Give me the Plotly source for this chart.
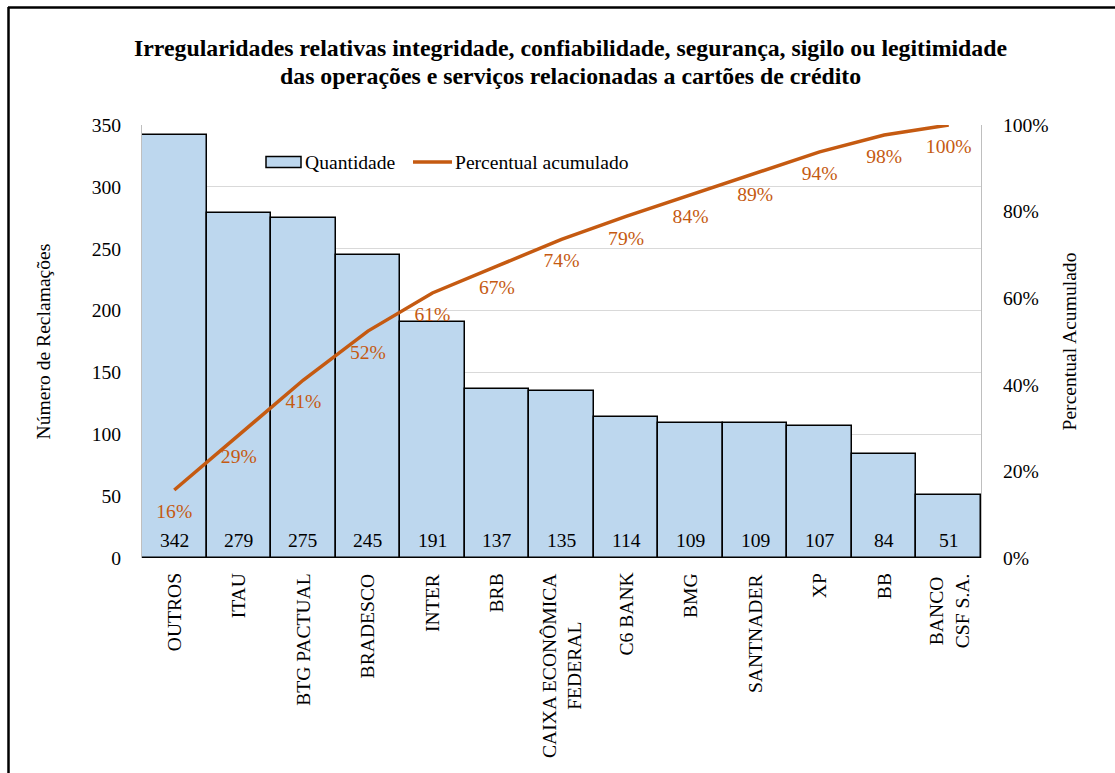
import plotly.graph_objects as go

categories = ["OUTROS", "ITAU", "BTG PACTUAL", "BRADESCO", "INTER", "BRB",
              "CAIXA ECONÔMICA<br>FEDERAL", "C6 BANK", "BMG", "SANTNADER", "XP", "BB",
              "BANCO<br>CSF S.A."]
quantidade = [342, 279, 275, 245, 191, 137, 135, 114, 109, 109, 107, 84, 51]
percentual = [0.157, 0.285, 0.411, 0.524, 0.612, 0.674, 0.736, 0.789, 0.839, 0.889, 0.938, 0.977, 1.0]
pct_labels = ["16%", "29%", "41%", "52%", "61%", "67%", "74%", "79%", "84%", "89%", "94%", "98%", "100%"]
y_ticks = [0, 50, 100, 150, 200, 250, 300, 350]
y2_ticks = [0, 0.2, 0.4, 0.6, 0.8, 1.0]
y2_ticklabels = ["0%", "20%", "40%", "60%", "80%", "100%"]
title_lines = ["Irregularidades relativas integridade, confiabilidade, segurança, sigilo ou legitimidade",
               "das operações e serviços relacionadas a cartões de crédito"]

W, H = 1115, 773
L, R, T, B = 142, 981, 125, 558
FONT = "Liberation Serif, Times New Roman, serif"
BAR_FILL = "#BDD7EE"
ORANGE = "#C55A11"
FS = 19.6


def px(x):
    return (x - L) / (R - L)


def py(y):
    return (B - y) / (B - T)


fig = go.Figure()
fig.add_trace(go.Bar(
    x=categories, y=quantidade, name="Quantidade",
    marker=dict(color=BAR_FILL, line=dict(color="#000000", width=1.5)),
    showlegend=False,
))
fig.add_trace(go.Scatter(
    x=categories, y=percentual, name="Percentual acumulado", yaxis="y2",
    mode="lines+markers+text",
    line=dict(color=ORANGE, width=3.5),
    marker=dict(size=20, color="rgba(0,0,0,0)"),
    text=pct_labels, textposition="bottom center",
    textfont=dict(family=FONT, size=FS, color=ORANGE),
    showlegend=False, cliponaxis=False,
))

annotations = []
# bar value labels near the base of each bar
for c, v in zip(categories, quantidade):
    annotations.append(dict(
        x=c, xref="x", y=0, yref="y", text=str(v), showarrow=False,
        xanchor="center", yanchor="middle", yshift=18,
        font=dict(family=FONT, size=FS, color="#000000"),
    ))
# category labels (rotated)
for c in categories:
    annotations.append(dict(
        x=c, xref="x", y=py(571), yref="paper", text=c, showarrow=False,
        textangle=-90, xanchor="center", yanchor="top", align="center",
        font=dict(family=FONT, size=FS, color="#000000"),
    ))
# title lines
for line, yc in zip(title_lines, [48, 76]):
    annotations.append(dict(x=px(570), y=py(yc), xref="paper", yref="paper",
                            text="<b>" + line + "</b>", showarrow=False,
                            xanchor="center", yanchor="middle",
                            font=dict(family=FONT, size=23.8, color="#000000")))
# legend texts
annotations.append(dict(x=px(303), y=py(162), xref="paper", yref="paper",
                        text="Quantidade", showarrow=False, xanchor="left", yanchor="middle",
                        font=dict(family=FONT, size=FS, color="#000000")))
annotations.append(dict(x=px(453), y=py(162), xref="paper", yref="paper",
                        text="Percentual acumulado", showarrow=False, xanchor="left", yanchor="middle",
                        font=dict(family=FONT, size=FS, color="#000000")))

shapes = [
    # legend symbols
    dict(type="rect", xref="paper", yref="paper", x0=px(266), x1=px(301), y0=py(156.5), y1=py(167.5),
         fillcolor=BAR_FILL, line=dict(color="#000000", width=1.5)),
    dict(type="line", xref="paper", yref="paper", x0=px(413), x1=px(452), y0=py(162), y1=py(162),
         line=dict(color=ORANGE, width=3.5)),
    # outer frame (top and left visible)
    dict(type="line", xref="paper", yref="paper", x0=px(8), x1=px(1120), y0=py(7.5), y1=py(7.5),
         line=dict(color="#000000", width=2.5)),
    dict(type="line", xref="paper", yref="paper", x0=px(8.5), x1=px(8.5), y0=py(7), y1=py(780),
         line=dict(color="#000000", width=2.5)),
]

fig.update_layout(
    width=W, height=H,
    margin=dict(l=L, r=W - R, t=T, b=H - B, pad=0),
    paper_bgcolor="white", plot_bgcolor="white",
    font=dict(family=FONT, size=FS, color="#000000"),
    bargap=0,
    xaxis=dict(showticklabels=False, showgrid=False, showline=False, zeroline=False,
               ticks="", range=[-0.5, len(categories) - 0.5]),
    yaxis=dict(range=[0, 350], tickvals=y_ticks, showgrid=True, gridcolor="#D9D9D9",
               gridwidth=1, showline=True, linecolor="#BFBFBF", linewidth=1, zeroline=False,
               ticks="", ticklabelstandoff=16,
               tickfont=dict(family=FONT, size=FS),
               title=dict(text="Número de Reclamações", standoff=35,
                          font=dict(family=FONT, size=FS))),
    yaxis2=dict(range=[0, 1], overlaying="y", side="right", tickvals=y2_ticks,
                ticktext=y2_ticklabels, showgrid=False, showline=True, linecolor="#BFBFBF",
                linewidth=1, zeroline=False, ticks="", ticklabelstandoff=17,
                tickfont=dict(family=FONT, size=FS),
                title=dict(text="Percentual Acumulado", standoff=14,
                           font=dict(family=FONT, size=FS))),
    annotations=annotations,
    shapes=shapes,
    showlegend=False,
)

fig.write_html("out.html")
